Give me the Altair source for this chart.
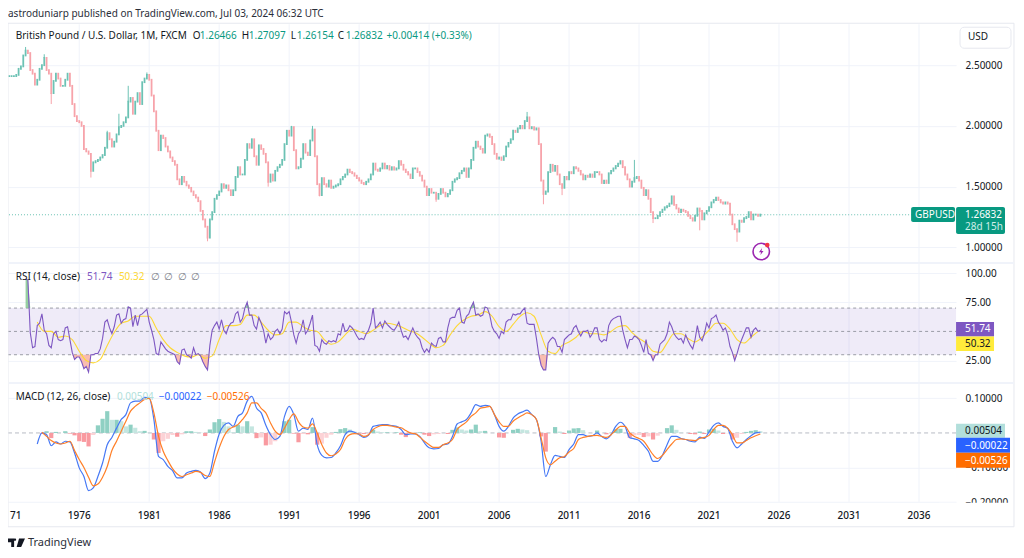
import altair as alt
import pandas as pd

FONT = "Noto Sans"
UP, DOWN = "#6cc2b4", "#f7a3aa"
TEAL = "#089981"

closes = [
2.41,2.41,2.41,2.42,2.47,2.49,2.58,2.62,2.60,2.46,2.43,2.34,2.38,2.47,2.50,2.56,2.46,2.43,2.27,2.37,2.43,2.39,2.33,2.33,2.38,2.43,2.33,2.18,2.08,2.04,
2.03,2.00,1.81,1.79,1.77,1.63,1.70,1.71,1.72,1.74,1.76,1.82,1.94,1.89,1.83,1.87,1.93,1.99,2.00,2.03,2.07,2.20,2.23,2.10,2.20,2.27,2.18,2.36,2.39,2.42,
2.38,2.25,2.12,1.96,1.80,1.92,1.90,1.83,1.79,1.74,1.71,1.68,1.56,1.52,1.58,1.54,1.51,1.49,1.46,1.43,1.41,1.38,1.30,1.23,1.17,1.08,1.23,1.29,1.40,1.43,
1.46,1.52,1.49,1.51,1.47,1.43,1.47,1.58,1.66,1.60,1.60,1.72,1.85,1.82,1.89,1.75,1.68,1.84,1.81,1.77,1.70,1.54,1.60,1.55,1.63,1.66,1.68,1.72,1.85,1.96,
1.92,1.99,1.80,1.65,1.66,1.73,1.85,1.78,1.76,1.88,1.97,1.75,1.52,1.43,1.57,1.52,1.50,1.55,1.49,1.50,1.51,1.52,
1.56,1.58,1.60,1.64,1.62,1.61,1.59,1.57,1.55,1.53,1.52,1.54,1.56,1.60,1.69,1.64,1.63,1.65,1.69,1.65,1.67,1.64,1.66,1.64,1.65,1.71,1.68,1.64,1.62,1.60,
1.57,1.65,1.65,1.62,1.59,1.55,1.50,1.43,1.48,1.45,1.45,1.40,1.44,1.48,1.45,1.42,1.44,1.47,1.54,1.56,1.57,1.61,1.63,1.65,1.58,1.65,1.72,1.82,1.87,1.83,
1.81,1.78,1.92,1.93,1.91,1.85,1.77,1.73,1.74,1.72,1.75,1.83,1.86,1.89,1.96,1.95,1.98,2.00,1.98,2.04,2.07,1.98,1.99,1.97,1.98,1.85,1.55,1.44,1.46,1.62,
1.68,1.63,1.67,1.60,1.52,1.49,1.58,1.56,1.62,1.61,1.66,1.65,1.63,1.60,1.56,1.59,1.58,1.60,1.58,1.62,1.62,1.60,1.53,1.55,1.53,1.61,1.63,1.65,1.67,1.69,
1.71,1.66,1.60,1.56,1.50,1.54,1.57,1.58,1.55,1.49,1.43,1.47,1.40,1.29,1.24,1.24,1.26,1.29,1.31,1.33,1.34,1.36,1.42,1.35,1.32,1.29,
1.31,1.30,1.29,1.26,1.24,1.22,1.26,1.32,1.30,1.23,1.28,1.30,1.33,1.37,1.39,1.41,1.39,1.37,1.36,1.37,1.36,1.27,1.19,1.15,1.13,1.22,1.21,1.24,1.25,1.29,
1.23,1.27,1.27,1.26,1.27]
wick_highs = {7: 2.65, 15: 2.59, 42: 1.96, 47: 2.10, 51: 2.33, 59: 2.44, 222: 2.115, 268: 1.72, 121: 2.00, 130: 2.00}
wick_lows = {18: 2.18, 35: 1.575, 85: 1.05, 111: 1.50, 133: 1.42, 183: 1.375, 229: 1.355, 237: 1.43, 276: 1.20, 296: 1.14, 312: 1.046}

rsi = [
95,94,49,36,37,55,57,65,51,48,38,36,48,50,43,42,43,53,54,43,32,26,28,28,24,18,20,15,
30,30,31,31,35,44,58,60,53,48,54,64,65,57,60,61,71,70,54,64,55,64,65,67,69,58,51,43,31,30,41,38,35,33,32,31,30,24,22,34,35,30,29,27,36,30,31,29,24,20,17,
38,51,55,58,52,60,51,48,54,57,58,65,67,58,61,70,75,64,64,55,52,62,57,51,40,48,43,45,50,52,48,52,67,65,67,58,47,40,48,51,60,48,51,57,64,38,37,33,43,40,39,42,41,42,41,48,
47,57,50,51,55,53,50,46,43,44,43,48,51,57,70,53,55,58,53,59,56,54,52,51,54,58,51,45,46,43,48,53,48,45,43,36,32,35,32,40,38,37,44,45,41,41,53,61,62,62,68,70,58,57,63,65,71,75,
64,65,63,64,71,70,64,54,50,48,44,50,48,58,60,60,65,64,65,65,68,70,57,56,56,56,44,30,21,17,17,40,43,45,43,37,37,32,43,45,47,48,53,55,50,46,50,50,51,45,48,53,53,43,41,43,42,55,59,61,62,63,63,51,43,36,43,43,46,45,43,38,32,43,31,30,25,30,30,39,41,43,48,58,54,48,45,43,
44,40,47,42,38,35,43,55,45,42,48,57,53,61,62,64,58,55,51,53,47,37,32,25,31,38,43,48,53,53,45,51,53,50,51]
rsi_ma = [
58,50,50,45,46,43,33,25,23,26,38,49,57,59,63,63,63,53,43,36,32,29,28,30,27,29,43,55,55,56,64,64,58,51,47,48,58,58,54,51,50,43,39,41,
47,52,50,48,51,55,57,56,54,51,49,45,40,36,38,47,55,60,63,64,67,63,54,50,56,63,66,63,47,33,31,38,41,45,50,48,48,47,50,54,55,49,44,40,33,32,40,48,
48,44,41,45,51,57,57,52,43,40,45,50]

macd = [
-.032,0,-.005,-.037,-.026,-.032,-.024,-.026,-.058,-.101,-.126,-.167,-.159,-.126,-.087,-.034,-.013,.014,.039,.053,.087,.092,.092,.103,.101,.039,-.068,-.077,-.097,-.109,
-.130,-.130,-.116,-.111,-.108,-.113,-.132,-.116,-.053,-.003,.022,.029,.019,.048,.058,.092,.106,.072,.058,.022,-.005,-.019,-.010,.048,.077,.053,.005,.014,.010,.043,-.034,-.065,-.072,-.071,-.058,
-.037,-.005,.005,.002,-.005,-.013,-.007,.019,.022,.024,.024,.021,.019,.010,-.005,-.003,-.003,-.010,-.029,-.043,-.046,-.045,-.034,-.032,-.010,.026,.032,.039,.058,.082,.077,.080,.077,.053,.019,.005,.019,.043,.055,.061,.066,.053,.039,-.024,-.126,-.092,-.065,-.068,-.071,-.048,-.032,-.005,-.005,-.010,-.008,0,-.010,-.017,-.005,.019,.031,.019,-.014,-.017,-.022,-.036,-.053,-.082,-.082,-.065,-.034,-.010,-.010,
-.016,-.019,-.024,-.026,-.012,-.016,.003,.022,.029,.019,.013,-.024,-.043,-.032,-.019,-.008,0,.002]
signal = [
.002,-.010,-.022,-.029,-.032,-.029,-.024,-.051,-.077,-.100,-.128,-.153,-.148,-.128,-.097,-.051,-.024,.005,.034,.063,.077,.087,.097,.100,.058,-.010,-.053,-.080,-.103,
-.119,-.126,-.121,-.116,-.111,-.114,-.123,-.126,-.084,-.043,-.010,.010,.017,.024,.039,.058,.087,.087,.071,.058,.029,.005,-.005,.014,.039,.055,.032,.017,.014,.026,0,-.034,-.058,-.066,-.061,
-.048,-.019,-.005,-.002,-.003,-.010,-.005,.010,.018,.022,.022,.020,.017,.015,.007,0,-.002,-.012,-.024,-.034,-.042,-.042,-.034,-.029,-.019,.010,.022,.032,.048,.058,.072,.074,.077,.053,.032,.019,.019,.034,.043,.051,.058,.053,.039,-.014,-.072,-.092,-.082,-.072,-.068,-.055,-.045,-.019,-.013,-.010,-.008,-.007,-.010,-.013,-.005,.008,.019,.019,0,-.010,-.016,-.024,-.043,-.063,-.074,-.065,-.048,-.032,-.019,
-.017,-.019,-.021,-.022,-.016,-.013,-.007,.010,.022,.022,.014,-.005,-.029,-.029,-.022,-.014,-.008,-.003]

year_ticks = [1976, 1981, 1986, 1991, 1996, 2001, 2006, 2011, 2016, 2021, 2026, 2031, 2036]
price_ticks = [1.0, 1.5, 2.0, 2.5]
rsi_ticks = [25, 75, 100]
macd_ticks = [-0.2, -0.1, 0.1]
rsi_levels = [70, 50, 30]
last_close = 1.26832

WIDTH = 949
LAST = 1971 + (len(closes) - 1) / 6


def px(v):
    return v - 8


# tables
rows = []
prev = closes[0]
for i, c in enumerate(closes):
    rows.append({"year": 1971 + i / 6, "open": prev, "close": c, "col": UP if c >= prev else DOWN})
    prev = c
candles = pd.DataFrame(rows)
wicks = []
for i, h in wick_highs.items():
    r = rows[i]
    wicks.append({"year": r["year"], "a": max(r["open"], r["close"]), "b": h, "col": r["col"]})
for i, l in wick_lows.items():
    r = rows[i]
    wicks.append({"year": r["year"], "a": min(r["open"], r["close"]), "b": l, "col": r["col"]})
wicks = pd.DataFrame(wicks)

rsi_df = pd.DataFrame({
    "year": [LAST - (len(rsi) - 1 - i) / 6 for i in range(len(rsi))],
    "v": rsi,
})
rsi_df["lo"] = rsi_df["v"].clip(upper=30)
rsi_df["lo0"] = 30
rsi_df["hi"] = rsi_df["v"].clip(lower=70)
rsi_df["hi0"] = 70
ma_df = pd.DataFrame({"year": [1973 + i / 2 for i in range(len(rsi_ma))], "v": rsi_ma})
macd_df = pd.DataFrame({"year": [1973 + i / 3 for i in range(len(macd))], "v": macd})
sig_df = pd.DataFrame({"year": [1973 + (i + 1) / 3 for i in range(len(signal))], "v": signal})
hist = []
last_h = 0
for i, s in enumerate(signal):
    h = macd[i + 1] - s
    if h >= 0:
        col = "#8fd0c3" if h >= last_h else "#c4e6e0"
    else:
        col = "#f99aa0" if h <= last_h else "#fcd2d6"
    hist.append({"year": 1973 + (i + 1) / 3, "v": h, "zero": 0, "col": col})
    last_h = h
hist_df = pd.DataFrame(hist)

one = pd.DataFrame({"k": [0]})
X = alt.X("year:Q", scale=alt.Scale(domain=[1970.91, 2038.65], zero=False, nice=False), axis=None)


def label(text, x, y, color="#131722", size=10, align="left", weight=400):
    return alt.Chart(one).mark_text(
        text=text, align=align, baseline="middle", font=FONT, fontSize=size, color=color, fontWeight=weight
    ).encode(x=alt.value(px(x)), y=alt.value(px(y)))


def box(x0, x1, y0, y1, fill, stroke=None, radius=0):
    kw = {"stroke": stroke, "strokeWidth": 1} if stroke else {}
    return alt.Chart(one).mark_rect(fill=fill, cornerRadius=radius, **kw).encode(
        x=alt.value(px(x0)), x2=alt.value(px(x1)), y=alt.value(px(y0)), y2=alt.value(px(y1))
    )


def y_axis(values, fmt):
    return alt.Axis(orient="right", values=values, format=fmt, title=None, domain=False, ticks=False,
                    labelPadding=9, grid=True, gridColor="#f0f3fa", gridWidth=1, labelFont=FONT, labelFontSize=10,
                    labelColor="#131722", labelOverlap=False, labelBound=False, labelFlush=False)


# price pane
ps = alt.Scale(domain=[0.871, 2.837], range=[255, 16], zero=False, nice=False)
pa = y_axis(price_ticks, ".5f")
grid_x = alt.Chart(pd.DataFrame({"year": year_ticks})).mark_rule(color="#f0f3fa", strokeWidth=1).encode(
    x=X, y=alt.value(px(24)), y2=alt.value(px(502)))
price_line = alt.Chart(pd.DataFrame({"p": [last_close]})).mark_rule(color=TEAL, strokeDash=[1, 2], opacity=0.6).encode(
    y=alt.Y("p:Q", scale=ps, axis=pa), x=alt.value(1), x2=alt.value(WIDTH))
wick_layer = alt.Chart(wicks).mark_rule(strokeWidth=1).encode(
    x=X, y=alt.Y("a:Q", scale=ps, axis=pa), y2="b:Q", color=alt.Color("col:N", scale=None))
candle_layer = alt.Chart(candles).mark_rule(strokeWidth=1.8, strokeCap="square").encode(
    x=X, y=alt.Y("open:Q", scale=ps, axis=pa), y2="close:Q", color=alt.Color("col:N", scale=None))
price = alt.layer(price_line, wick_layer, candle_layer)

# RSI pane
rs = alt.Scale(domain=[6.7, 107.8], range=[374, 256], zero=False, nice=False)
ra = y_axis(rsi_ticks, ".2f")
band = alt.Chart(pd.DataFrame({"a": [30], "b": [70]})).mark_rect(color="#7e57c2", opacity=0.12).encode(
    y=alt.Y("a:Q", scale=rs, axis=ra), y2="b:Q", x=alt.value(0), x2=alt.value(WIDTH))
levels = alt.Chart(pd.DataFrame({"p": rsi_levels})).mark_rule(color="#9a9da6", strokeDash=[3, 3], strokeWidth=1).encode(
    y=alt.Y("p:Q", scale=rs, axis=ra), x=alt.value(0), x2=alt.value(WIDTH))
area_lo = alt.Chart(rsi_df).mark_area(color="#f7a08f", opacity=0.7).encode(
    x=X, y=alt.Y("lo:Q", scale=rs, axis=ra), y2="lo0:Q")
area_hi = alt.Chart(rsi_df).mark_area(color="#7cc48a", opacity=0.8).encode(
    x=X, y=alt.Y("hi:Q", scale=rs, axis=ra), y2="hi0:Q")
rsi_ma_line = alt.Chart(ma_df).mark_line(color="#fdd835", strokeWidth=1.1, interpolate="monotone").encode(
    x=X, y=alt.Y("v:Q", scale=rs, axis=ra))
rsi_line = alt.Chart(rsi_df).mark_line(color="#7e57c2", strokeWidth=1.1).encode(
    x=X, y=alt.Y("v:Q", scale=rs, axis=ra))
rsi_pane = alt.layer(band, levels, area_lo, area_hi, rsi_ma_line, rsi_line)

# MACD pane
ms = alt.Scale(domain=[-0.2, 0.139], range=[494.3, 377], zero=False, nice=False)
ma = y_axis(macd_ticks, ".5f")
zero_line = alt.Chart(pd.DataFrame({"p": [0]})).mark_rule(color="#b8bbc4", strokeDash=[4, 3]).encode(
    y=alt.Y("p:Q", scale=ms, axis=ma), x=alt.value(0), x2=alt.value(WIDTH))
hist_layer = alt.Chart(hist_df).mark_rule(strokeWidth=4.2).encode(
    x=X, y=alt.Y("zero:Q", scale=ms, axis=ma), y2="v:Q", color=alt.Color("col:N", scale=None))
macd_line = alt.Chart(macd_df).mark_line(color="#4678f5", strokeWidth=1.2, interpolate="monotone").encode(
    x=X, y=alt.Y("v:Q", scale=ms, axis=ma))
sig_line = alt.Chart(sig_df).mark_line(color="#ff7f27", strokeWidth=1.2, interpolate="monotone").encode(
    x=X, y=alt.Y("v:Q", scale=ms, axis=ma))
macd_pane = alt.layer(zero_line, hist_layer, macd_line, sig_line)

# frame and annotations
frame = alt.Chart(one).mark_rect(fillOpacity=0, stroke="#e6e8ef", strokeWidth=1).encode(
    x=alt.value(px(8)), x2=alt.value(px(1015)), y=alt.value(px(23)), y2=alt.value(px(527)))
sep1 = box(9, 1015, 262, 264, "#f0f3fa")
sep2 = box(9, 1015, 382, 384, "#f0f3fa")
cover = box(940, 1014, 503, 526, "#ffffff")

x_labels = [alt.Chart(pd.DataFrame({"year": [y]})).mark_text(
    text=str(y), font=FONT, fontSize=10, align="center", baseline="middle", color="#131722", fontWeight=500).encode(
    x=X, y=alt.value(px(516))) for y in year_ticks]
x_labels.append(label("71", 10, 516, weight=500))

tags = [
    box(961, 1012, 27, 48, "#ffffff", stroke="#e6e8ef", radius=4),
    box(912, 956, 207, 222, TEAL, radius=2),
    box(957, 1006, 207, 234, TEAL, radius=2),
    box(957, 995, 322, 336.5, "#7e57c2"),
    box(957, 995, 336.5, 351, "#ffeb3b"),
    box(957, 1006, 424, 438, "#b2dfdb"),
    box(957, 1011, 438, 453, "#2962ff"),
    box(957, 1011, 453, 468, "#ff6d00"),
]

texts = [
    label("astroduniarp published on TradingView.com, Jul 03, 2024 06:32 UTC", 8, 14, "#2a2e39"),
    label("British Pound / U.S. Dollar, 1M, FXCM", 15.7, 36),
    label("O", 193, 36), label("1.26466", 200, 36, TEAL),
    label("H", 242, 36), label("1.27097", 249, 36, TEAL),
    label("L", 291, 36), label("1.26154", 297, 36, TEAL),
    label("C", 338, 36), label("1.26832", 346, 36, TEAL),
    label("+0.00414 (+0.33%)", 387, 36, TEAL),
    label("RSI (14, close)", 15.7, 277),
    label("51.74", 87, 277, "#7e57c2"), label("50.32", 119, 277, "#fdd835"),
    label("∅", 151, 277, "#787b86"), label("∅", 164, 277, "#787b86"),
    label("∅", 178, 277, "#787b86"), label("∅", 191, 277, "#787b86"),
    label("MACD (12, 26, close)", 15.7, 397),
    label("0.00504", 117, 397, "#b2dfdb"), label("−0.00022", 159, 397, "#2962ff"),
    label("−0.00526", 207, 397, "#ff6d00"),
    label("TradingView", 28, 543, "#2a2e39", size=11),
    label("USD", 969, 37),
    label("GBPUSD", 916, 214.5, "#ffffff"),
    label("1.26832", 966, 214.5, "#ffffff"),
    label("28d 15h", 966, 227, "#cfeee8"),
    label("51.74", 966, 329, "#ffffff"),
    label("50.32", 966, 344, "#131722"),
    label("0.00504", 966, 431, "#131722"),
    label("−0.00022", 966, 446, "#ffffff"),
    label("−0.00526", 966, 461, "#ffffff"),
]

LOGO = "M-1,-.5 H-.28 V.5 H-.62 V-.06 H-1 Z M-.18,-.5 A.14,.14 0 1 1 -.18,-.22 A.14,.14 0 1 1 -.18,-.5 Z M.3,-.5 H1 L.55,.5 H.02 Z"
BOLT = "M.2,-.85 L-.55,.15 H-.05 L-.2,.85 L.55,-.15 H.05 Z"
logo = alt.Chart(one).mark_point(shape=LOGO, filled=True, color="#131722", size=289, opacity=1).encode(
    x=alt.value(px(16.5)), y=alt.value(px(543)))
ring = alt.Chart(one).mark_point(shape="circle", filled=False, color="#9c27b0", size=270, strokeWidth=1.6, opacity=1).encode(
    x=alt.value(px(762)), y=alt.value(px(251.5)))
bolt = alt.Chart(one).mark_point(shape=BOLT, filled=True, color="#9c27b0", size=70, opacity=1).encode(
    x=alt.value(px(762)), y=alt.value(px(251.5)))
dot = alt.Chart(one).mark_point(shape="circle", filled=True, color="#f23645", size=22, opacity=1).encode(
    x=alt.value(px(768)), y=alt.value(px(245)))

chart = alt.layer(
    grid_x, price, rsi_pane, macd_pane, frame, sep1, sep2, cover,
    *x_labels, *tags, *texts, logo, ring, bolt, dot
).resolve_scale(y="independent").properties(
    width=WIDTH, height=542,
    padding={"left": 0, "top": 0, "right": 60, "bottom": 0},
    autosize=alt.AutoSizeParams(type="none"),
    background="#ffffff",
).configure_view(stroke=None)

chart.save("out.html", embed_options={"renderer": "svg", "actions": False})
